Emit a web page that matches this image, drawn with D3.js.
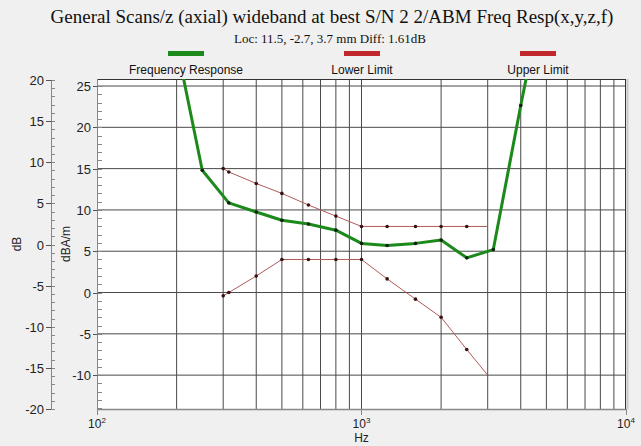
<!DOCTYPE html>
<html>
<head>
<meta charset="utf-8">
<script src="https://cdn.jsdelivr.net/npm/d3@7"></script>
<style>
  body { margin: 0; background: #f0f0f0; }
  svg { display: block; }
  text { font-family: "Liberation Sans", Arial, sans-serif; }
</style>
</head>
<body>
<div id="chart"></div>
<script>
// values
const titleText = "General Scans/z (axial) wideband at best S/N 2 2/ABM Freq Resp(x,y,z,f)";
const subtitleText = "Loc: 11.5, -2.7, 3.7 mm Diff: 1.61dB";

const respFreqs = [200, 250, 315, 400, 500, 630, 800, 1000, 1250, 1600, 2000, 2500, 3150, 4000, 5000];
const response  = [30, 14.8, 10.85, 9.75, 8.75, 8.3, 7.55, 5.95, 5.7, 5.95, 6.35, 4.2, 5.2, 22.65, 38];

const limitFreqs = [300, 315, 400, 500, 630, 800, 1000, 1250, 1600, 2000, 2500, 3000];
const upperLimit = [15, 14.6, 13.2, 12, 10.6, 9.25, 8, 8, 8, 8, 8, 8];
const lowerLimit = [-0.4, 0, 2, 4, 4, 4, 4, 1.65, -0.8, -3, -6.9, -10];

const legendNames = ["Frequency Response", "Lower Limit", "Upper Limit"];
const legendColors = ["#1b8a1b", "#c0282c", "#c0282c"];

const leftTicks = [-20, -15, -10, -5, 0, 5, 10, 15, 20];
const rightTicks = [-10, -5, 0, 5, 10, 15, 20, 25];
const decades = [100, 1000, 10000];

// size
let width = 641, height = 446;
let plot = { left: 97, right: 626, top: 79, bottom: 409 };

let x = d3.scaleLog().domain([100, 10000]).range([plot.left, plot.right]);
let yR = d3.scaleLinear().domain([-14.1, 25.85]).range([plot.bottom, plot.top]); // dBA/m
let yL = d3.scaleLinear().domain([-20, 20]).range([plot.bottom, 80]);           // dB

let svg = d3.select("#chart").append("svg")
    .attr("width", width).attr("height", height);

// titles
svg.append("text")
    .attr("x", 332).attr("y", 23)
    .attr("text-anchor", "middle")
    .style("font-family", "'Liberation Serif', 'Times New Roman', serif")
    .style("font-size", "19px")
    .attr("fill", "#111")
    .text(titleText);
svg.append("text")
    .attr("x", 330).attr("y", 43)
    .attr("text-anchor", "middle")
    .style("font-family", "'Liberation Serif', 'Times New Roman', serif")
    .style("font-size", "13px")
    .attr("fill", "#111")
    .text(subtitleText);

// legend
let legendX = d3.scalePoint().domain(legendNames).range([186, 538]);
let lg = svg.selectAll(".legend").data(legendNames).enter().append("g")
    .attr("class", "legend")
    .attr("transform", d => "translate(" + legendX(d) + ",0)");
lg.append("rect")
    .attr("x", -18).attr("y", 51).attr("width", 36).attr("height", 5)
    .attr("fill", (d, i) => legendColors[i]);
lg.append("text")
    .attr("y", 74).attr("text-anchor", "middle")
    .style("font-size", "12px").attr("fill", "#111")
    .text(d => d);

// plot background
svg.append("rect")
    .attr("x", plot.left).attr("y", plot.top)
    .attr("width", plot.right - plot.left).attr("height", plot.bottom - plot.top)
    .attr("fill", "#fff");

svg.append("clipPath").attr("id", "clip")
    .append("rect")
    .attr("x", plot.left).attr("y", plot.top)
    .attr("width", plot.right - plot.left).attr("height", plot.bottom - plot.top);

// grid: 200..900, 1000, 2000..9000
let gridFreqs = [];
[100, 1000].forEach(dec => d3.range(2, 10).forEach(k => gridFreqs.push(dec * k)));
gridFreqs.push(1000);

let grid = svg.append("g").attr("stroke", "#4a4a4a").attr("stroke-width", 1);
grid.selectAll(".vgrid").data(gridFreqs).enter().append("line")
    .attr("x1", d => x(d)).attr("x2", d => x(d))
    .attr("y1", plot.top).attr("y2", plot.bottom);
grid.selectAll(".hgrid").data(rightTicks).enter().append("line")
    .attr("x1", plot.left).attr("x2", plot.right)
    .attr("y1", d => yR(d)).attr("y2", d => yR(d));

// border
svg.append("line").attr("x1", plot.left).attr("x2", plot.right)
    .attr("y1", plot.top + 0.5).attr("y2", plot.top + 0.5).attr("stroke", "#333");
svg.append("line").attr("x1", plot.right - 0.5).attr("x2", plot.right - 0.5)
    .attr("y1", plot.top).attr("y2", plot.bottom).attr("stroke", "#333");
svg.append("line").attr("x1", plot.right + 1.5).attr("x2", plot.right + 1.5)
    .attr("y1", plot.top).attr("y2", plot.bottom).attr("stroke", "#c8c8c8").attr("stroke-width", 2);

// left axis (dB)
let axisColor = "#888";
let ax = svg.append("g");
ax.append("line").attr("x1", 51.5).attr("x2", 51.5)
    .attr("y1", yL(20)).attr("y2", yL(-20)).attr("stroke", axisColor);
ax.selectAll(".lminor").data(d3.range(-20, 21)).enter().append("line")
    .attr("x1", 51.5).attr("x2", 55)
    .attr("y1", d => Math.round(yL(d)) + 0.5).attr("y2", d => Math.round(yL(d)) + 0.5)
    .attr("stroke", axisColor);
ax.selectAll(".lmajor").data(leftTicks).enter().append("line")
    .attr("x1", 46).attr("x2", 51.5)
    .attr("y1", d => Math.round(yL(d)) + 0.5).attr("y2", d => Math.round(yL(d)) + 0.5)
    .attr("stroke", "#555");
ax.selectAll(".llabel").data(leftTicks).enter().append("text")
    .attr("x", 44).attr("y", d => yL(d) + 5)
    .attr("text-anchor", "end").style("font-size", "13px").attr("fill", "#222")
    .text(d => d);

// right axis (dBA/m) on plot edge
ax.append("line").attr("x1", plot.left + 0.5).attr("x2", plot.left + 0.5)
    .attr("y1", plot.top).attr("y2", plot.bottom + 6).attr("stroke", axisColor);
ax.selectAll(".rminor").data(d3.range(-14, 26)).enter().append("line")
    .attr("x1", plot.left + 0.5).attr("x2", plot.left + 5)
    .attr("y1", d => Math.round(yR(d)) + 0.5).attr("y2", d => Math.round(yR(d)) + 0.5)
    .attr("stroke", axisColor);
ax.selectAll(".rmajor").data(rightTicks).enter().append("line")
    .attr("x1", plot.left - 4).attr("x2", plot.left + 0.5)
    .attr("y1", d => Math.round(yR(d)) + 0.5).attr("y2", d => Math.round(yR(d)) + 0.5)
    .attr("stroke", "#555");
ax.selectAll(".rlabel").data(rightTicks).enter().append("text")
    .attr("x", 91).attr("y", d => yR(d) + 5)
    .attr("text-anchor", "end").style("font-size", "13px").attr("fill", "#222")
    .text(d => d);

// bottom axis
ax.append("line").attr("x1", plot.left).attr("x2", plot.right)
    .attr("y1", plot.bottom + 0.5).attr("y2", plot.bottom + 0.5).attr("stroke", axisColor).attr("stroke-width", 1.5);
ax.selectAll(".bmajor").data(decades).enter().append("line")
    .attr("x1", d => Math.round(x(d)) + 0.5).attr("x2", d => Math.round(x(d)) + 0.5)
    .attr("y1", plot.bottom).attr("y2", plot.bottom + 6)
    .attr("stroke", axisColor);
let bl = ax.selectAll(".blabel").data(decades).enter().append("text")
    .attr("x", d => x(d)).attr("y", 428)
    .attr("text-anchor", "middle").style("font-size", "12px").attr("fill", "#222");
bl.append("tspan").text("10");
bl.append("tspan").attr("dy", -5).style("font-size", "8px").text(d => Math.round(Math.log10(d)));

svg.append("text").attr("x", x(1000)).attr("y", 442)
    .attr("text-anchor", "middle").style("font-size", "12px").attr("fill", "#222")
    .text("Hz");

// axis titles
svg.append("text").attr("transform", "translate(21,244) rotate(-90)")
    .attr("text-anchor", "middle").style("font-size", "12px").attr("fill", "#222").text("dB");
svg.append("text").attr("transform", "translate(70,244) rotate(-90)")
    .attr("text-anchor", "middle").style("font-size", "12px").attr("fill", "#222").text("dBA/m");

// data
let lineGen = d3.line().x(d => x(d[0])).y(d => yR(d[1]));
let marks = svg.append("g").attr("clip-path", "url(#clip)");

let respPts = respFreqs.map((f, i) => [f, response[i]]);
let upperPts = limitFreqs.map((f, i) => [f, upperLimit[i]]);
let lowerPts = limitFreqs.map((f, i) => [f, lowerLimit[i]]);

[upperPts, lowerPts].forEach(pts => {
    marks.append("path").datum(pts)
        .attr("d", lineGen).attr("fill", "none")
        .attr("stroke", "#b05a5a").attr("stroke-width", 1);
    // the 3000 Hz end point has no marker
    marks.selectAll(null).data(pts.slice(0, -1)).enter().append("circle")
        .attr("cx", d => x(d[0])).attr("cy", d => yR(d[1])).attr("r", 1.8)
        .attr("fill", "#3a1010");
});

marks.append("path").datum(respPts)
    .attr("d", lineGen).attr("fill", "none")
    .attr("stroke", "#1b8a1b").attr("stroke-width", 3)
    .attr("stroke-linejoin", "round");
marks.selectAll(".rdot").data(respPts).enter().append("circle")
    .attr("cx", d => x(d[0])).attr("cy", d => yR(d[1])).attr("r", 1.8)
    .attr("fill", "#102010");
</script>
</body>
</html>
